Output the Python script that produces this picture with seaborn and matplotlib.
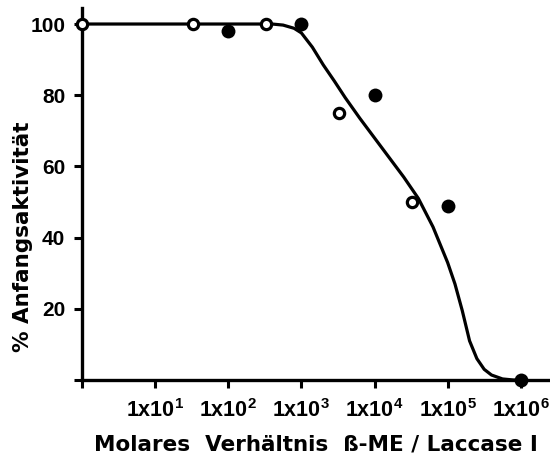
import numpy as np
import pandas as pd
import matplotlib
matplotlib.use("Agg")
import matplotlib.pyplot as plt
import seaborn as sns

# Measured activity: filled and open symbols (molar ratio, % initial activity)
filled_ratio = [1e2, 1e3, 1e4, 1e5, 1e6]
filled_activity = [98, 100, 80, 49, 0]
open_ratio = [1, 3.3e1, 3.3e2, 3.3e3, 3.3e4]
open_activity = [100, 100, 100, 75, 50]

# Hand-drawn trend curve (log10 ratio, % activity)
curve_log_ratio = [0.0, 2.6, 2.75, 2.9, 3.0, 3.15, 3.3, 3.45, 3.6, 3.8, 4.0, 4.2,
                   4.4, 4.6, 4.8, 5.0, 5.1, 5.2, 5.3, 5.4, 5.5, 5.6, 5.75, 5.9, 6.0]
curve_activity = [100, 100, 99.7, 98.8, 97.5, 93.5, 88.5, 84.0, 79.3, 73.5, 68.0, 62.5,
                  57.0, 51.0, 43.0, 33.0, 27.0, 19.5, 11.0, 6.0, 3.0, 1.4, 0.3, 0.0, 0.0]

x_ticks = [1e1, 1e2, 1e3, 1e4, 1e5, 1e6]
x_ticklabels = [r"$\mathrm{1x10^{%d}}$" % k for k in range(1, 7)]
y_ticks = [0, 20, 40, 60, 80, 100]
y_ticklabels = ["", "20", "40", "60", "80", "100"]

sns.set_style("ticks")
plt.rcParams["font.family"] = ["Liberation Sans", "DejaVu Sans"]
plt.rcParams["mathtext.fontset"] = "custom"
plt.rcParams["mathtext.rm"] = "Liberation Sans:bold"
for key in ("text.color", "axes.labelcolor", "xtick.color", "ytick.color",
            "axes.edgecolor"):
    plt.rcParams[key] = "black"

fig = plt.figure(figsize=(5.5, 4.62), dpi=100)
ax = fig.add_axes([82 / 550, 1 - 380 / 462, 1 - 82 / 550, (380 - 8) / 462])

curve = pd.DataFrame({"ratio": 10 ** np.array(curve_log_ratio), "activity": curve_activity})
sns.lineplot(data=curve, x="ratio", y="activity", ax=ax, color="black",
             linewidth=2.3, zorder=2, clip_on=False)

sns.scatterplot(x=open_ratio, y=open_activity, ax=ax, marker="o", s=55,
                facecolor="white", edgecolor="black", linewidth=2.3,
                zorder=4, clip_on=False)
sns.scatterplot(x=filled_ratio, y=filled_activity, ax=ax, marker="o", s=100,
                color="black", edgecolor="black", linewidth=0,
                zorder=4, clip_on=False)

ax.set_xscale("log")
ax.set_xlim(1, 10 ** 6.4)
ax.set_ylim(0, 104.5)

ax.set_xticks([1] + x_ticks)
ax.set_xticklabels([""] + x_ticklabels, fontsize=15.5)
ax.xaxis.set_minor_locator(matplotlib.ticker.NullLocator())
ax.set_yticks(y_ticks)
ax.set_yticklabels(y_ticklabels, fontsize=15, fontweight="bold")

ax.tick_params(axis="both", direction="out", length=6, width=2.2, color="black")
ax.tick_params(axis="x", pad=8)
ax.tick_params(axis="y", pad=6)

for side in ("top", "right"):
    ax.spines[side].set_visible(False)
for side in ("left", "bottom"):
    ax.spines[side].set_linewidth(2.4)
    ax.spines[side].set_color("black")

ax.set_xlabel("Molares  Verhältnis  ß-ME / Laccase I", fontsize=15.5,
              fontweight="bold", family="DejaVu Sans", labelpad=9)
ax.set_ylabel("% Anfangsaktivität", fontsize=15.5, fontweight="bold",
              family="DejaVu Sans")
ax.yaxis.set_label_coords(-0.105, 0.385)

fig.savefig("out.png", dpi=100)
